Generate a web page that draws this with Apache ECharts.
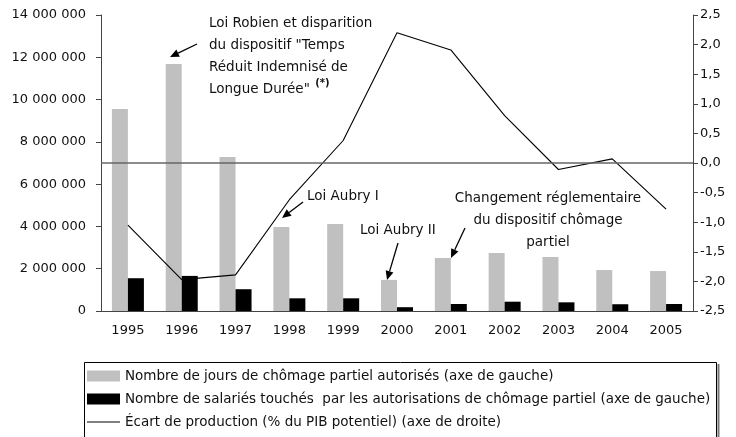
<!DOCTYPE html>
<html>
<head>
<meta charset="utf-8">
<title>Chômage partiel</title>
<script src="https://cdn.jsdelivr.net/npm/echarts@6/dist/echarts.min.js"></script>
<style>
  html, body { margin: 0; padding: 0; background: #fff; }
  #main { width: 736px; height: 437px; }
</style>
</head>
<body>
<div id="main"></div>
<script>
// données
var annees = ['1995', '1996', '1997', '1998', '1999', '2000', '2001', '2002', '2003', '2004', '2005'];
var joursAutorises = [9550000, 11680000, 7280000, 3970000, 4120000, 1470000, 2510000, 2740000, 2550000, 1940000, 1890000];
var salariesTouches = [1550000, 1660000, 1030000, 600000, 600000, 180000, 330000, 440000, 410000, 320000, 330000];
var ecartProduction = [-1.05, -1.97, -1.89, -0.62, 0.38, 2.2, 1.91, 0.8, -0.11, 0.07, -0.78];

var nomJours = 'Nombre de jours de chômage partiel autorisés (axe de gauche)';
var nomSalaries = 'Nombre de salariés touchés  par les autorisations de chômage partiel (axe de gauche)';
var nomEcart = 'Écart de production (% du PIB potentiel) (axe de droite)';

var police = 'DejaVu Sans';
var axeCouleur = '#444';

// flèche : trait + pointe triangulaire en (x2, y2)
function fleche(x1, y1, x2, y2) {
    var a = Math.atan2(y2 - y1, x2 - x1);
    var L = 9, W = 4;
    var bx = x2 - L * Math.cos(a), by = y2 - L * Math.sin(a);
    return [
        { type: 'line', shape: { x1: x1, y1: y1, x2: bx, y2: by }, style: { stroke: '#000', lineWidth: 1.3 } },
        { type: 'polygon', shape: { points: [
            [x2, y2],
            [bx + W * Math.sin(a), by - W * Math.cos(a)],
            [bx - W * Math.sin(a), by + W * Math.cos(a)]
        ] }, style: { fill: '#000' } }
    ];
}

function texte(x, y, t, align) {
    return {
        type: 'text', x: x, y: y,
        style: {
            text: t, font: '13.5px "' + police + '"', fill: '#111',
            align: align || 'left', verticalAlign: 'top', lineHeight: 22,
            rich: { sup: { fontSize: 10, fontWeight: 'bold', fontFamily: police, verticalAlign: 'top', padding: [0, 0, 4, 1] } }
        }
    };
}

var graphiques = []
    .concat(fleche(197, 44, 170, 57))
    .concat(fleche(303, 202, 282, 218))
    .concat(fleche(398, 243, 387, 280))
    .concat(fleche(465, 228, 451, 258))
    .concat([
        texte(209, 12, 'Loi Robien et disparition\ndu dispositif "Temps\nRéduit Indemnisé de\nLongue Durée" {sup|(*)}'),
        texte(307, 185, 'Loi Aubry I'),
        texte(360, 219, 'Loi Aubry II'),
        texte(548, 187, 'Changement réglementaire\ndu dispositif chômage\npartiel', 'center'),
        // cadre de la légende
        { type: 'rect', z: -1, shape: { x: 84.5, y: 362.5, width: 632, height: 90 },
          style: { fill: '#fff', stroke: '#000', lineWidth: 1 } },
        { type: 'line', z: -1, shape: { x1: 718.5, y1: 364, x2: 718.5, y2: 437 },
          style: { stroke: '#777', lineWidth: 2 } }
    ]);

var myChart = echarts.init(document.getElementById('main'));
var option = {
    animation: false,
    textStyle: { fontFamily: police, color: '#111' },
    grid: { left: 101, right: 43, top: 15, bottom: 126 },
    legend: {
        orient: 'vertical',
        left: 87, top: 369,
        padding: 0,
        itemWidth: 33, itemHeight: 11, itemGap: 9,
        textStyle: { fontSize: 13.5, color: '#111', lineHeight: 14, fontFamily: police },
        data: [
            { name: nomJours, icon: 'rect' },
            { name: nomSalaries, icon: 'rect' },
            { name: nomEcart, icon: 'path://M0,0L33,0L33,1.2L0,1.2Z' }
        ]
    },
    xAxis: {
        type: 'category',
        data: annees,
        axisLine: { lineStyle: { color: axeCouleur, width: 1 } },
        axisTick: { length: 5, lineStyle: { color: axeCouleur } },
        axisLabel: { color: '#111', fontSize: 13, margin: 13 }
    },
    yAxis: [
        {
            type: 'value', min: 0, max: 14000000, interval: 2000000,
            splitLine: { show: false },
            axisLine: { show: true, lineStyle: { color: axeCouleur } },
            axisTick: { show: true, length: 5, lineStyle: { color: axeCouleur } },
            axisLabel: {
                color: '#111', fontSize: 13, margin: 15,
                formatter: function (v) { return String(v).replace(/\B(?=(\d{3})+(?!\d))/g, ' '); }
            }
        },
        {
            type: 'value', min: -2.5, max: 2.5, interval: 0.5,
            position: 'right',
            splitLine: { show: false },
            axisLine: { show: true, lineStyle: { color: axeCouleur } },
            axisTick: { show: true, length: 5, lineStyle: { color: axeCouleur } },
            axisLabel: {
                color: '#111', fontSize: 13, margin: 7,
                formatter: function (v) { return v.toFixed(1).replace('.', ','); }
            }
        }
    ],
    series: [
        {
            name: nomJours, type: 'bar', data: joursAutorises,
            barWidth: 16, barGap: '0%',
            itemStyle: { color: '#c0c0c0' }
        },
        {
            name: nomSalaries, type: 'bar', data: salariesTouches,
            barWidth: 16, barGap: '0%',
            itemStyle: { color: '#000' }
        },
        {
            name: nomEcart, type: 'line', yAxisIndex: 1, data: ecartProduction,
            symbol: 'none',
            lineStyle: { color: '#000', width: 1.1 },
            itemStyle: { color: '#000' },
            markLine: {
                silent: true, symbol: 'none', label: { show: false },
                lineStyle: { color: '#666', width: 1.5, type: 'solid' },
                data: [{ yAxis: 0 }]
            }
        }
    ],
    graphic: graphiques
};
myChart.setOption(option);
</script>
</body>
</html>
